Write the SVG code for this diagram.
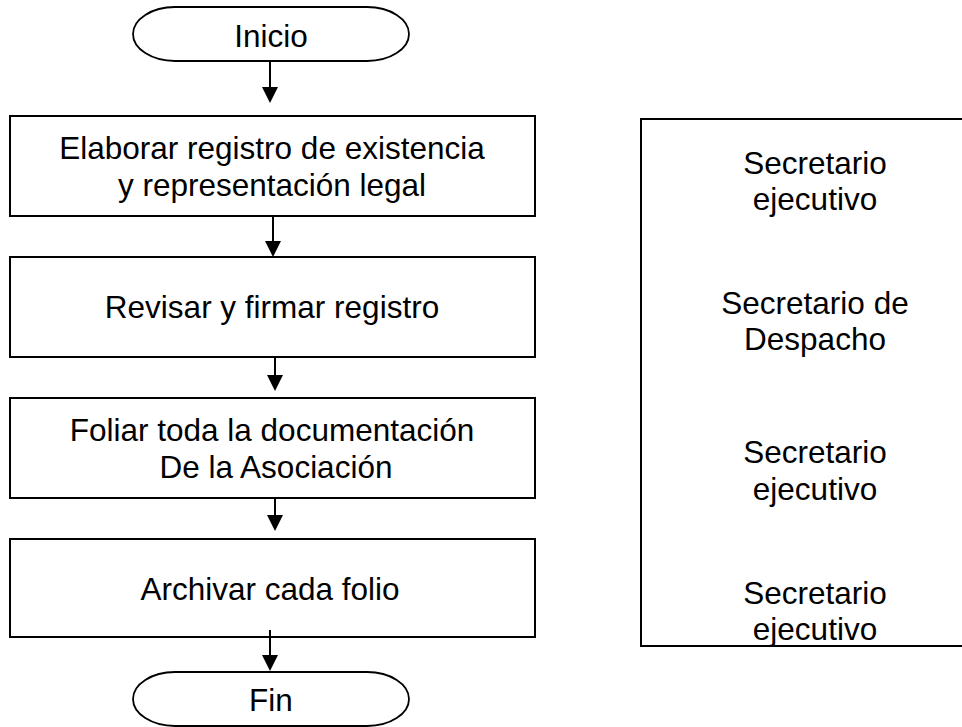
<svg xmlns="http://www.w3.org/2000/svg" width="962" height="727" viewBox="0 0 962 727">
<defs>
<style>
.box{fill:#fff;stroke:#000;stroke-width:2}
.term{fill:#fff;stroke:#000;stroke-width:1.8}
.t{font-family:"Liberation Sans",Arial,sans-serif;font-size:31.5px;fill:#000;text-anchor:middle}
.head{fill:#000;stroke:none}
</style>
</defs>
<rect width="962" height="727" fill="#fff"/>
<g id="inicio">
<rect class="term" x="133" y="7" width="276" height="54" rx="42" ry="27"/>
<text class="t" x="271" y="47">Inicio</text>
</g>
<g id="elaborar">
<rect class="box" x="10" y="116" width="525" height="100"/>
<text class="t" x="272" y="159">Elaborar registro de existencia</text>
<text class="t" x="272" y="196"> y representación legal</text>
</g>
<g id="revisar">
<rect class="box" x="10" y="257" width="525" height="100"/>
<text class="t" x="272" y="318">Revisar y firmar registro</text>
</g>
<g id="foliar">
<rect class="box" x="10" y="398" width="525" height="100"/>
<text class="t" x="272" y="441">Foliar toda la documentación</text>
<text class="t" x="276" y="478"> De la Asociación</text>
</g>
<g id="archivar">
<rect class="box" x="10" y="539" width="525" height="98"/>
<text class="t" x="270" y="600">Archivar cada folio</text>
</g>
<g id="fin">
<rect class="term" x="133" y="672" width="276" height="54" rx="42" ry="27"/>
<text class="t" x="271" y="711">Fin</text>
</g>
<g id="responsables">
<rect class="box" x="641" y="119" width="340" height="527"/>
<text class="t" x="815" y="174">Secretario</text>
<text class="t" x="815" y="210">ejecutivo</text>
<text class="t" x="815" y="314">Secretario de</text>
<text class="t" x="815" y="350">Despacho</text>
<text class="t" x="815" y="463">Secretario</text>
<text class="t" x="815" y="500">ejecutivo</text>
<text class="t" x="815" y="604">Secretario</text>
<text class="t" x="815" y="640">ejecutivo</text>
</g>
<g id="connectors" stroke="#000" stroke-width="2">
<line x1="270" y1="61" x2="270" y2="88"/>
<polygon class="head" points="262,87 278,87 270,103"/>
<line x1="273" y1="216" x2="273" y2="242"/>
<polygon class="head" points="265,241 281,241 273,257"/>
<line x1="275" y1="357" x2="275" y2="376"/>
<polygon class="head" points="267,375 283,375 275,391"/>
<line x1="275" y1="498" x2="275" y2="516"/>
<polygon class="head" points="267,515 283,515 275,531"/>
<line x1="270" y1="630" x2="270" y2="656"/>
<polygon class="head" points="262,655 278,655 270,671"/>
</g>
</svg>
